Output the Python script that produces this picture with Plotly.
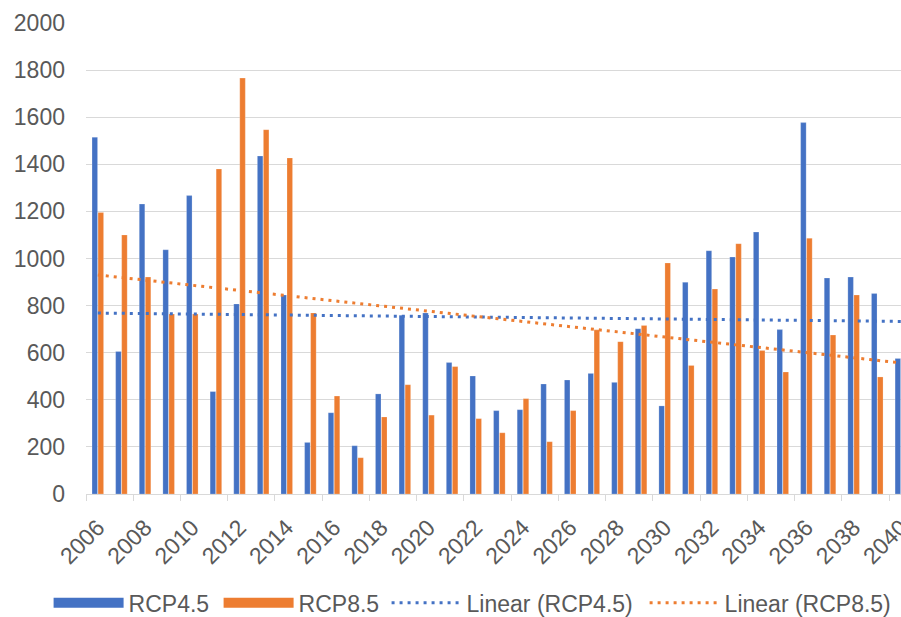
import numpy as np
import plotly.graph_objects as go

years = list(range(2006, 2041))
rcp45 = [1515, 605, 1231, 1037, 1267, 435, 807, 1435, 845, 219,
         345, 205, 425, 759, 769, 558, 501, 354, 358, 467,
         484, 512, 474, 702, 374, 899, 1033, 1006, 1112, 698,
         1577, 917, 921, 851, 575]
rcp85 = [1195, 1100, 921, 764, 764, 1380, 1766, 1547, 1427, 769,
         416, 154, 327, 464, 335, 541, 320, 260, 405, 222,
         354, 697, 647, 716, 981, 546, 870, 1063, 609, 518,
         1086, 675, 845, 497, 840]
tick_years = list(range(2006, 2041, 2))
tick_labels = [str(y) for y in tick_years]
y_ticks = list(range(0, 2001, 200))

BLUE = "#4472C4"
ORANGE = "#ED7D31"
GRID = "#D9D9D9"
TEXT = "#595959"
FONT = "Liberation Sans, Arial, sans-serif"

x = np.array(years, dtype=float)
fit45 = np.polyval(np.polyfit(x, rcp45, 1), x)
fit85 = np.polyval(np.polyfit(x, rcp85, 1), x)

fig = go.Figure()
fig.add_trace(go.Bar(x=years, y=rcp45, name="RCP4.5", marker_color=BLUE,
                     marker_line=dict(color="rgba(255,255,255,0.35)", width=0.6),
                     showlegend=False, legendgroup="a"))
fig.add_trace(go.Bar(x=years, y=rcp85, name="RCP8.5", marker_color=ORANGE,
                     marker_line=dict(color="rgba(255,255,255,0.35)", width=0.6),
                     showlegend=False, legendgroup="b"))
# legend swatches for the bar series (Excel-style wide rectangles)
fig.add_trace(go.Scatter(x=[None], y=[None], mode="lines", name="RCP4.5",
                         line=dict(color=BLUE, width=13), legendgroup="a", legend="legend"))
fig.add_trace(go.Scatter(x=[None], y=[None], mode="lines", name="RCP8.5",
                         line=dict(color=ORANGE, width=13), legendgroup="b", legend="legend2"))
fig.add_trace(go.Scatter(x=years, y=fit45, mode="lines", name="Linear (RCP4.5)",
                         line=dict(color=BLUE, width=3, dash="3px,5px"), legend="legend3"))
fig.add_trace(go.Scatter(x=years, y=fit85, mode="lines", name="Linear (RCP8.5)",
                         line=dict(color=ORANGE, width=3, dash="3px,5px"), legend="legend4"))

def leg(xpos):
    return dict(orientation="h", x=xpos, xanchor="left",
                yref="container", y=0.023, yanchor="middle",
                font=dict(size=23, color=TEXT), itemwidth=70,
                bgcolor="rgba(0,0,0,0)", borderwidth=0)

fig.update_layout(
    width=901, height=617,
    margin=dict(l=86, r=0, t=23, b=123, autoexpand=False),
    paper_bgcolor="white", plot_bgcolor="white",
    font=dict(family=FONT, size=23, color=TEXT),
    barmode="group", bargap=0.49, bargroupgap=0.08,
    showlegend=True,
    legend=leg(-0.0459), legend2=leg(0.1627), legend3=leg(0.3688), legend4=leg(0.6854),
    xaxis=dict(
        range=[2005.5, 2040.005], automargin=False,
        tickmode="array", tickvals=tick_years, ticktext=tick_labels,
        tickangle=-45, ticks="", showgrid=False,
        showline=True, linecolor=GRID, linewidth=1,
        ticklabelstandoff=10, ticklabeloverflow="allow",
        tickfont=dict(size=23, color=TEXT),
        minor=dict(tickmode="array", tickvals=[y - 0.5 for y in tick_years] + [2039.5],
                   ticks="outside", ticklen=6, tickcolor=GRID, tickwidth=1, showgrid=False),
        zeroline=False,
    ),
    yaxis=dict(
        range=[0, 2000], automargin=False, tickmode="array", tickvals=y_ticks,
        showgrid=True, gridcolor=GRID, gridwidth=1,
        zeroline=False, showline=False, ticks="",
        ticklabelstandoff=20,
        tickfont=dict(size=23, color=TEXT),
    ),
)

fig.write_html("out.html", config={"displayModeBar": False},
               post_script="document.body.style.margin='0px';document.body.style.overflow='hidden';")
